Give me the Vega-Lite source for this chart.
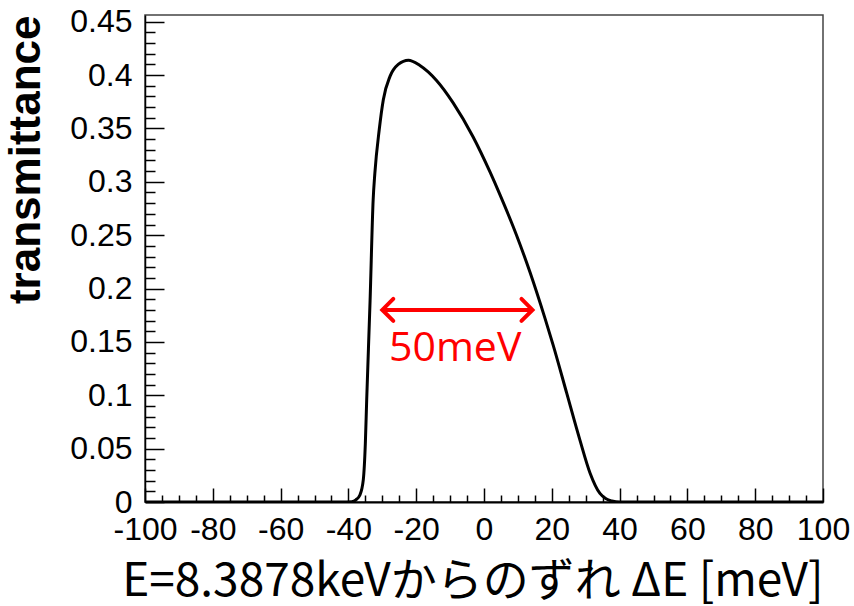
{
  "$schema": "https://vega.github.io/schema/vega-lite/v6.json",
  "width": 678,
  "height": 487,
  "autosize": "none",
  "padding": {"left": 145, "top": 15, "right": 31, "bottom": 104},
  "background": "white",
  "config": {
    "view": {"stroke": "#444", "strokeWidth": 1.5},
    "axis": {"grid": false, "domainColor": "black", "tickColor": "black"}
  },
  "datasets": {
    "curve": [
      {"dE": -100, "T": 0},
      {"dE": -42, "T": 0},
      {"dE": -39, "T": 0.0003},
      {"dE": -37.8, "T": 0.002},
      {"dE": -36.6, "T": 0.0066},
      {"dE": -35.6, "T": 0.021},
      {"dE": -35.0, "T": 0.055},
      {"dE": -34.6, "T": 0.096},
      {"dE": -33.6, "T": 0.189},
      {"dE": -32.7, "T": 0.283},
      {"dE": -32.2, "T": 0.308},
      {"dE": -30.9, "T": 0.349},
      {"dE": -29.7, "T": 0.377},
      {"dE": -27.7, "T": 0.399},
      {"dE": -25.3, "T": 0.410},
      {"dE": -22.3, "T": 0.414},
      {"dE": -18.9, "T": 0.409},
      {"dE": -14.0, "T": 0.395},
      {"dE": -9.1, "T": 0.374},
      {"dE": -3.2, "T": 0.342},
      {"dE": 1.8, "T": 0.309},
      {"dE": 4.7, "T": 0.288},
      {"dE": 9.6, "T": 0.250},
      {"dE": 13.6, "T": 0.215},
      {"dE": 18.0, "T": 0.172},
      {"dE": 20.4, "T": 0.147},
      {"dE": 24.4, "T": 0.102},
      {"dE": 28.3, "T": 0.058},
      {"dE": 31.3, "T": 0.027},
      {"dE": 34.2, "T": 0.008},
      {"dE": 36.0, "T": 0.003},
      {"dE": 37.7, "T": 0.001},
      {"dE": 40.1, "T": 0},
      {"dE": 100, "T": 0}
    ],
    "arrow": [
      {"x1": -30.0, "x2": 14.3, "T": 0.180}
    ],
    "heads": [
      {"dE": -30.0, "T": 0.180, "side": "left"},
      {"dE": 14.3, "T": 0.180, "side": "right"}
    ],
    "label": [
      {"dE": -8.5, "T": 0.143, "text": "50meV"}
    ]
  },
  "layer": [
    {
      "data": {"name": "curve"},
      "mark": {"type": "line", "color": "black", "strokeWidth": 3, "interpolate": "monotone", "clip": true},
      "encoding": {
        "x": {
          "field": "dE", "type": "quantitative",
          "scale": {"domain": [-100, 100], "nice": false, "zero": false},
          "axis": {
            "orient": "bottom",
            "values": [-100, -80, -60, -40, -20, 0, 20, 40, 60, 80, 100],
            "labelExpr": "datum.value + ''",
            "tickSize": -14, "tickWidth": 1.5, "domainWidth": 2,
            "labelFont": "Liberation Sans", "labelFontSize": 32, "labelColor": "black",
            "labelPadding": 26, "labelFlush": false, "labelOverlap": false,
            "title": "E=8.3878keVからのずれ ΔE [meV]",
            "titleFont": "Noto Sans CJK JP", "titleFontSize": 46, "titleFontWeight": "normal",
            "titleColor": "black", "titleAnchor": "end", "titlePadding": 14
          }
        },
        "y": {
          "field": "T", "type": "quantitative",
          "scale": {"domain": [0, 0.4563], "nice": false, "zero": false},
          "axis": {
            "orient": "left",
            "values": [0, 0.05, 0.1, 0.15, 0.2, 0.25, 0.3, 0.35, 0.4, 0.45],
            "format": ".2~f",
            "tickSize": -19, "tickWidth": 1.5, "domainWidth": 1.5,
            "labelFont": "Liberation Sans", "labelFontSize": 32, "labelColor": "black",
            "labelPadding": 32, "labelFlush": false, "labelOverlap": false,
            "title": "transmittance",
            "titleFont": "Liberation Sans", "titleFontSize": 44, "titleFontWeight": "bold",
            "titleColor": "black", "titleAnchor": "end", "titlePadding": 21
          }
        }
      }
    },
    {
      "data": {"name": "arrow"},
      "mark": {"type": "rule", "color": "#ff0000", "strokeWidth": 4},
      "encoding": {
        "x": {
          "field": "x1", "type": "quantitative",
          "scale": {"domain": [-100, 100], "nice": false, "zero": false},
          "axis": {
            "orient": "bottom",
            "values": [-95, -90, -85, -75, -70, -65, -55, -50, -45, -35, -30, -25, -15, -10, -5, 5, 10, 15, 25, 30, 35, 45, 50, 55, 65, 70, 75, 85, 90, 95],
            "tickSize": -7, "tickWidth": 1.5, "domain": false, "labels": false, "title": null
          }
        },
        "x2": {"field": "x2"},
        "y": {
          "field": "T", "type": "quantitative",
          "scale": {"domain": [0, 0.4563], "nice": false, "zero": false},
          "axis": {
            "orient": "left",
            "values": [0.01, 0.02, 0.03, 0.04, 0.06, 0.07, 0.08, 0.09, 0.11, 0.12, 0.13, 0.14, 0.16, 0.17, 0.18, 0.19, 0.21, 0.22, 0.23, 0.24, 0.26, 0.27, 0.28, 0.29, 0.31, 0.32, 0.33, 0.34, 0.36, 0.37, 0.38, 0.39, 0.41, 0.42, 0.43, 0.44],
            "tickSize": -10, "tickWidth": 1.5, "domain": false, "labels": false, "title": null
          }
        }
      }
    },
    {
      "data": {"name": "heads"},
      "mark": {"type": "point", "filled": false, "stroke": "#ff0000", "strokeWidth": 4, "size": 484, "strokeCap": "round", "strokeJoin": "miter", "opacity": 1},
      "encoding": {
        "x": {"field": "dE", "type": "quantitative", "scale": {"domain": [-100, 100], "nice": false, "zero": false}, "axis": null},
        "y": {"field": "T", "type": "quantitative", "scale": {"domain": [0, 0.4563], "nice": false, "zero": false}, "axis": null},
        "shape": {
          "field": "side", "type": "nominal",
          "scale": {"domain": ["left", "right"], "range": ["M1,-1L0,0L1,1", "M-1,-1L0,0L-1,1"]},
          "legend": null
        }
      }
    },
    {
      "data": {"name": "label"},
      "mark": {"type": "text", "color": "#ff0000", "font": "Open Sans", "fontSize": 41, "align": "center", "baseline": "middle"},
      "encoding": {
        "x": {"field": "dE", "type": "quantitative", "scale": {"domain": [-100, 100], "nice": false, "zero": false}, "axis": null},
        "y": {"field": "T", "type": "quantitative", "scale": {"domain": [0, 0.4563], "nice": false, "zero": false}, "axis": null},
        "text": {"field": "text"}
      }
    }
  ],
  "resolve": {"axis": {"x": "independent", "y": "independent"}}
}
